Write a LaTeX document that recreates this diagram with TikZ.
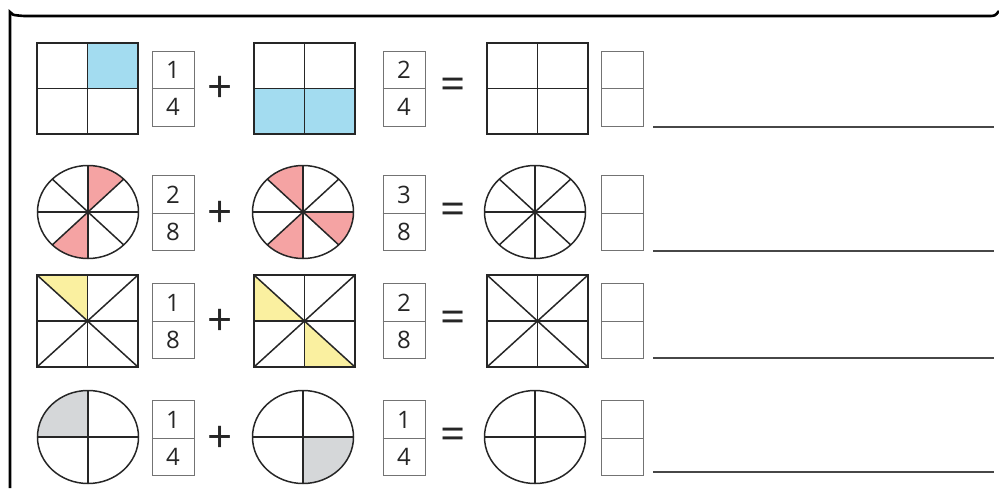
\documentclass[tikz,border=0pt]{standalone}
\usepackage{fontspec}
\setmainfont{Open Sans}
\usepackage{xcolor}
\usepackage{tikz}
\usetikzlibrary{calc}

\definecolor{skyfill}{HTML}{A3DCF0}
\definecolor{rosefill}{HTML}{F5A3A3}
\definecolor{lemonfill}{HTML}{FAF0A0}
\definecolor{greyfill}{HTML}{D5D7D9}

\begin{document}
\begin{tikzpicture}[
  x=1pt, y=-1pt,
  fig/.style={draw=black!85, line width=1.5pt},
  frac/.style={draw=black!55, line width=1pt, minimum width=42pt, minimum height=75pt, inner sep=0pt},
  split/.style={draw=black!55, line width=1pt},
  num/.style={font=\fontsize{24}{24}\selectfont, text=black!85, inner sep=0pt},
  op/.style={font=\fontsize{44}{44}\selectfont, text=black!85, inner sep=0pt},
  answer/.style={line width=1.8pt, draw=black!72},
  frame/.style={line width=2.6pt, draw=black}
]
\useasboundingbox (0,0) rectangle (999,488);
% outer frame
\draw[frame] (10,488) -- (10,12) .. controls (12,15) .. (24,16) -- (988,16) .. controls (995,16) .. (999,11);

% row 1: squares in quarters
\fill[skyfill] (87.5,43) rectangle (138,88.5);
\fill[skyfill] (254,88.5) rectangle (355,134);
\foreach \xa/\xb in {37/138, 254/355, 487/588}{
  \draw[fig] (\xa,43) rectangle (\xb,134);
  \draw[fig] ({(\xa+\xb)/2},43) -- ({(\xa+\xb)/2},134);
  \draw[fig] (\xa,88.5) -- (\xb,88.5);
}

% row 2: circles in eighths
\fill[rosefill] (88,212) -- +(45:50.5pt and 46.5pt) arc[start angle=45, end angle=90, x radius=50.5pt, y radius=46.5pt] -- cycle;
\fill[rosefill] (88,212) -- +(225:50.5pt and 46.5pt) arc[start angle=225, end angle=270, x radius=50.5pt, y radius=46.5pt] -- cycle;
\fill[rosefill] (303,212) -- +(90:50.5pt and 46.5pt) arc[start angle=90, end angle=135, x radius=50.5pt, y radius=46.5pt] -- cycle;
\fill[rosefill] (303,212) -- +(225:50.5pt and 46.5pt) arc[start angle=225, end angle=270, x radius=50.5pt, y radius=46.5pt] -- cycle;
\fill[rosefill] (303,212) -- +(315:50.5pt and 46.5pt) arc[start angle=315, end angle=360, x radius=50.5pt, y radius=46.5pt] -- cycle;
\foreach \cx in {88, 303, 535}{
  \foreach \a in {0,45,...,315}
    \draw[fig] (\cx,212) -- +(\a:50.5pt and 46.5pt);
  \draw[fig] (\cx,212) ellipse [x radius=50.5pt, y radius=46.5pt];
}

% row 3: squares in eighths
\fill[lemonfill] (37,275) -- (87.5,275) -- (87.5,321) -- cycle;
\fill[lemonfill] (254,275) -- (304.5,321) -- (254,321) -- cycle;
\fill[lemonfill] (304.5,321) -- (304.5,367) -- (355,367) -- cycle;
\foreach \xa/\xb in {37/138, 254/355, 487/588}{
  \draw[fig] (\xa,275) rectangle (\xb,367);
  \draw[fig] ({(\xa+\xb)/2},275) -- ({(\xa+\xb)/2},367);
  \draw[fig] (\xa,321) -- (\xb,321);
  \draw[fig] (\xa,275) -- (\xb,367);
  \draw[fig] (\xa,367) -- (\xb,275);
}

% row 4: circles in quarters
\fill[greyfill] (88,437) -- +(90:50.5pt and 46.5pt) arc[start angle=90, end angle=180, x radius=50.5pt, y radius=46.5pt] -- cycle;
\fill[greyfill] (303,437) -- +(270:50.5pt and 46.5pt) arc[start angle=270, end angle=360, x radius=50.5pt, y radius=46.5pt] -- cycle;
\foreach \cx in {88, 303, 535}{
  \foreach \a in {0,90,...,270}
    \draw[fig] (\cx,437) -- +(\a:50.5pt and 46.5pt);
  \draw[fig] (\cx,437) ellipse [x radius=50.5pt, y radius=46.5pt];
}

% fractions
\foreach \nm/\fx/\fy/\tp/\bt in {f11/173/88.5/1/4, f12/404/88.5/2/4, f21/173/213/2/8, f22/404/213/3/8,
                                 f31/173/321/1/8, f32/404/321/2/8, f41/173/438/1/4, f42/404/438/1/4}{
  \node[frac] (\nm) at (\fx,\fy) {};
  \draw[split] (\nm.west) -- (\nm.east);
  \node[num] (\nm t) at (\fx,\fy-18.5) {\tp};
  \node[num] (\nm b) at (\fx,\fy+18.5) {\bt};
}

% empty answer boxes and lines
\foreach \n/\fy/\ly in {1/88.5/127, 2/213/251, 3/321/358, 4/438/472}{
  \node[frac] (a\n) at (622.5,\fy) {};
  \draw[split] (a\n.west) -- (a\n.east);
  \coordinate (ls\n) at (653,\ly);
  \coordinate (le\n) at (994,\ly);
  \draw[answer] (ls\n) -- (le\n);
}

% operators
\foreach \n/\fy in {1/89, 2/214, 3/322, 4/439}{
  \node[op] (plus\n) at (220,\fy) {+};
  \node[op] (eq\n) at (453,\fy) {=};
}
\end{tikzpicture}
\end{document}
